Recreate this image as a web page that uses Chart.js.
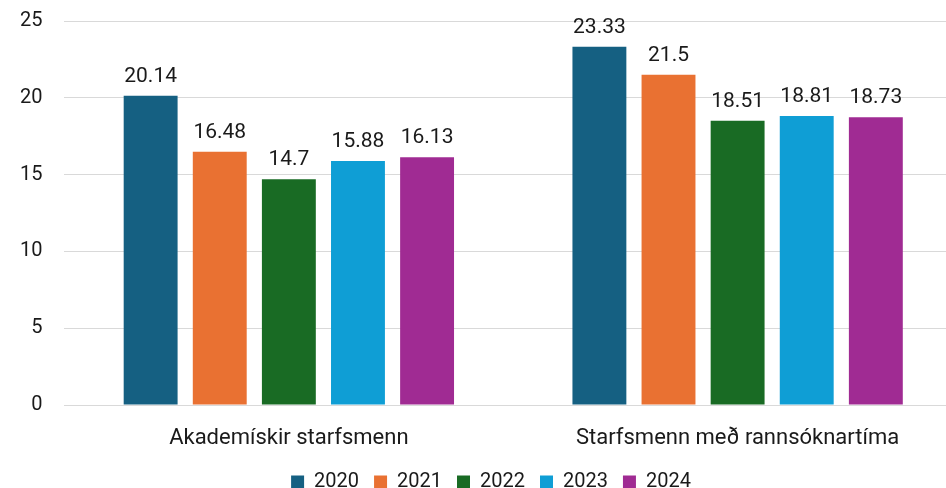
<!DOCTYPE html>
<html>
<head>
<meta charset="utf-8">
<script src="https://cdn.jsdelivr.net/npm/chart.js@4.4.1/dist/chart.umd.min.js"></script>
<style>
  html, body { margin: 0; padding: 0; overflow: hidden; background: #fff; }
  #wrap { width: 962px; height: 502px; }
</style>
</head>
<body>
<div id="wrap"><canvas id="chart" width="962" height="502"></canvas></div>
<script>
// Flokkar og gildi
const categories = ['Akademískir starfsmenn', 'Starfsmenn með rannsóknartíma'];
const years = ['2020', '2021', '2022', '2023', '2024'];
const values2020 = [20.14, 23.33];
const values2021 = [16.48, 21.5];
const values2022 = [14.7, 18.51];
const values2023 = [15.88, 18.81];
const values2024 = [16.13, 18.73];
const yTicks = [0, 5, 10, 15, 20, 25];

const colors = ['#156082', '#E97132', '#196B24', '#0F9ED5', '#A02B93'];
const allValues = [values2020, values2021, values2022, values2023, values2024];
const fontFamily = 'Roboto, "Open Sans", sans-serif';

// Einfalt plugin fyrir gildismerki ofan á súlum
const valueLabels = {
    id: 'valueLabels',
    afterDatasetsDraw(chart) {
        const ctx = chart.ctx;
        ctx.save();
        ctx.font = '21px ' + fontFamily;
        ctx.fillStyle = '#1a1a1a';
        ctx.textAlign = 'center';
        ctx.textBaseline = 'alphabetic';
        chart.data.datasets.forEach((ds, i) => {
            chart.getDatasetMeta(i).data.forEach((bar, j) => {
                ctx.fillText(String(ds.data[j]), bar.x, bar.y - 14);
            });
        });
        ctx.restore();
    }
};

new Chart(document.getElementById('chart'), {
    type: 'bar',
    data: {
        labels: categories,
        datasets: years.map((y, i) => ({
            label: y,
            data: allValues[i],
            backgroundColor: colors[i],
            borderWidth: 0,
            barPercentage: 0.78,
            categoryPercentage: 0.77
        }))
    },
    options: {
        responsive: false,
        animation: false,
        layout: { padding: { top: 21, left: 20, right: 0, bottom: 0 } },
        plugins: {
            legend: {
                position: 'bottom',
                labels: {
                    boxWidth: 13,
                    boxHeight: 13,
                    padding: 15,
                    color: '#1a1a1a',
                    font: { size: 20, family: fontFamily }
                }
            },
            tooltip: { enabled: false }
        },
        scales: {
            x: {
                grid: { display: false, drawTicks: false },
                border: { color: '#d9d9d9' },
                afterFit(axis) { axis.height = 52; },
                ticks: {
                    color: '#1a1a1a',
                    padding: 20,
                    font: { size: 22, family: fontFamily }
                }
            },
            y: {
                min: 0,
                max: 25,
                afterBuildTicks(axis) { axis.ticks = yTicks.map(v => ({ value: v })); },
                grid: { color: '#d9d9d9', drawTicks: true, tickLength: 22, tickColor: 'rgba(0,0,0,0)' },
                border: { display: false },
                ticks: {
                    color: '#1a1a1a',
                    padding: 0,
                    font: { size: 20, family: fontFamily }
                }
            }
        }
    },
    plugins: [valueLabels]
});
</script>
</body>
</html>
